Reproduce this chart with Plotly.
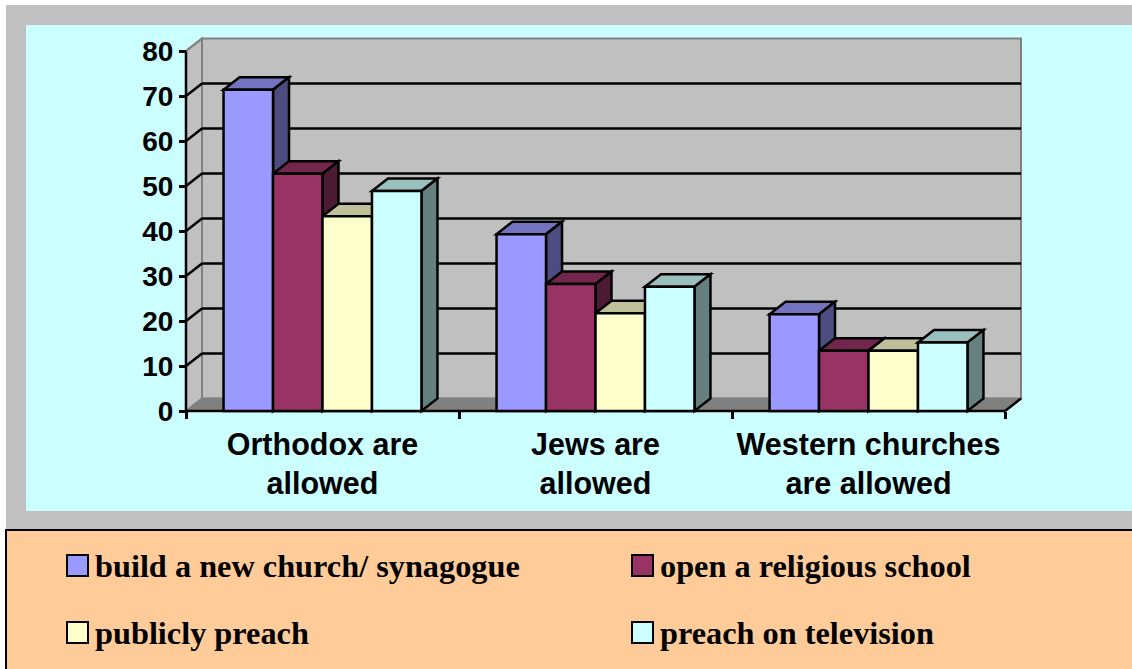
import plotly.graph_objects as go

# ---------------- data ----------------
categories = ["Orthodox are<br>allowed", "Jews are<br>allowed", "Western churches<br>are allowed"]
series_names = ["build a new church/ synagogue", "open a religious school",
                "publicly preach", "preach on television"]
build_church = [71.4, 39.3, 21.5]
religious_school = [52.7, 28.2, 13.4]
publicly_preach = [43.3, 21.7, 13.4]
preach_tv = [48.9, 27.6, 15.2]
y_ticks = [0, 10, 20, 30, 40, 50, 60, 70, 80]

series_values = [build_church, religious_school, publicly_preach, preach_tv]
colors = ["#9999FF", "#993366", "#FFFFCC", "#CCFFFF"]

# ---------------- layout geometry (pixels) ----------------
W, H = 1132, 669
L, R, T, B = 168, 1030, 30, 418          # plot area in px
X_AX, Y_ZERO = 186, 411                   # front axes in px
PXX, PYY = 273.0, 4.5                     # px per category, px per value unit
DEPTH_PX, DEPTH_PY = 16.0, 12.5           # 3-D depth offset in px
BARGAP = 0.275

xr = [-0.5 - (X_AX - L) / PXX, -0.5 + (R - X_AX) / PXX]
yr = [-(B - Y_ZERO) / PYY, (Y_ZERO - T) / PYY]
DX = DEPTH_PX / PXX
DY = DEPTH_PY / PYY
ymax = y_ticks[-1]
ncat = len(categories)
nser = len(series_values)


def px(xp):
    return (xp - L) / (R - L)


def py(yp):
    return (B - yp) / (B - T)


def shade(hexc, f):
    h = hexc.lstrip("#")
    r, g, b = (int(h[i:i + 2], 16) for i in (0, 2, 4))
    return "rgb(%d,%d,%d)" % (round(r * f), round(g * f), round(b * f))


def poly(pts, fill, line="black", lw=2.5, layer="below"):
    d = "M " + " L ".join("%.5f,%.5f" % p for p in pts) + " Z"
    return dict(type="path", path=d, xref="x", yref="y", fillcolor=fill,
                line=dict(color=line, width=lw), layer=layer)


def seg(p0, p1, color="black", lw=2.5):
    return dict(type="line", xref="x", yref="y", x0=p0[0], y0=p0[1], x1=p1[0], y1=p1[1],
                line=dict(color=color, width=lw), layer="below")


shapes = []
# page backgrounds (paper coords)
shapes.append(dict(type="rect", xref="paper", yref="paper", x0=px(6), x1=px(1140), y0=py(5), y1=py(530),
                   fillcolor="#C0C0C0", line=dict(width=0), layer="below"))
shapes.append(dict(type="rect", xref="paper", yref="paper", x0=px(26), x1=px(1140), y0=py(25), y1=py(511),
                   fillcolor="#CCFFFF", line=dict(width=0), layer="below"))
shapes.append(dict(type="rect", xref="paper", yref="paper", x0=px(6), x1=px(1140), y0=py(530), y1=py(690),
                   fillcolor="#FFCC99", line=dict(color="black", width=2), layer="below"))

xl0, xr0 = -0.5, ncat - 0.5
# back wall
shapes.append(poly([(xl0 + DX, DY), (xr0 + DX, DY), (xr0 + DX, ymax + DY), (xl0 + DX, ymax + DY)],
                   "#C0C0C0", line="#808080", lw=2))
# left wall
shapes.append(poly([(xl0, 0), (xl0 + DX, DY), (xl0 + DX, ymax + DY), (xl0, ymax)],
                   "#C0C0C0", line="#808080", lw=2))
# floor
shapes.append(poly([(xl0, 0), (xr0, 0), (xr0 + DX, DY), (xl0 + DX, DY)], "#808080", line="#808080", lw=1.5))
# gridlines
for v in y_ticks[1:-1]:
    shapes.append(seg((xl0 + DX, v + DY), (xr0 + DX, v + DY), lw=2.5))
    shapes.append(seg((xl0, v), (xl0 + DX, v + DY), lw=2.5))
# front axis lines
shapes.append(seg((xl0, 0), (xl0, ymax), lw=2.5))
shapes.append(seg((xl0, ymax), (xl0 + DX, ymax + DY), color="#808080", lw=2))
shapes.append(seg((xl0, 0), (xr0, 0), lw=2.5))
shapes.append(seg((xr0, 0), (xr0 + DX, DY), lw=2.5))

# 3-D faces of bars
bw = (1 - BARGAP) / nser
for c in range(ncat):
    for i in range(nser):
        h = series_values[i][c]
        xa = c - (1 - BARGAP) / 2 + i * bw
        xb = xa + bw
        shapes.append(poly([(xa, h), (xb, h), (xb + DX, h + DY), (xa + DX, h + DY)], shade(colors[i], 0.75)))
        shapes.append(poly([(xb, 0), (xb, h), (xb + DX, h + DY), (xb + DX, DY)], shade(colors[i], 0.5)))

fig = go.Figure()
for i in range(nser):
    fig.add_trace(go.Bar(x=list(range(ncat)), y=series_values[i], name=series_names[i],
                         marker=dict(color=colors[i], line=dict(color="black", width=2.5)),
                         showlegend=False, hoverinfo="skip"))

# custom legend (squares + text)
annotations = []
leg_pos = [(67, 555), (632, 555), (67, 622), (632, 622)]
for i in range(nser):
    x0, y0 = leg_pos[i]
    shapes.append(dict(type="rect", xref="paper", yref="paper", x0=px(x0), x1=px(x0 + 21),
                       y0=py(y0 + 21), y1=py(y0), fillcolor=colors[i],
                       line=dict(color="black", width=2), layer="above"))
    annotations.append(dict(xref="paper", yref="paper", x=px(x0 + 26), y=py(y0 + 11),
                            xanchor="left", yanchor="middle", showarrow=False, text=series_names[i],
                            font=dict(family="Liberation Serif, Times New Roman", size=32.3,
                                      color="black", weight="bold")))

fig.update_layout(
    width=W, height=H,
    margin=dict(l=L, r=W - R, t=T, b=H - B, pad=0),
    paper_bgcolor="white", plot_bgcolor="rgba(0,0,0,0)",
    barmode="group", bargap=BARGAP, bargroupgap=0,
    showlegend=False,
    shapes=shapes, annotations=annotations,
    xaxis=dict(range=xr, showgrid=False, zeroline=False, showline=False,
               tickmode="array", tickvals=list(range(ncat)), ticktext=categories, ticks="",
               anchor="free", position=py(Y_ZERO), ticklabelstandoff=12,
               tickfont=dict(family="Liberation Sans, Arial", size=30.5, color="black", weight="bold"),
               minor=dict(tickmode="array", tickvals=[k - 0.5 for k in range(ncat + 1)],
                          ticks="outside", ticklen=7, tickwidth=2.5, tickcolor="black", showgrid=False)),
    yaxis=dict(range=yr, showgrid=False, zeroline=False, showline=False,
               tickmode="array", tickvals=y_ticks, ticks="outside", ticklen=7, tickwidth=2.5,
               tickcolor="black", anchor="free", position=px(X_AX),
               tickfont=dict(family="Liberation Sans, Arial", size=28, color="black", weight="bold")),
)

fig.write_html("out.html", config={"displayModeBar": False},
               post_script="document.body.style.margin='0';document.body.style.overflow='hidden';")
